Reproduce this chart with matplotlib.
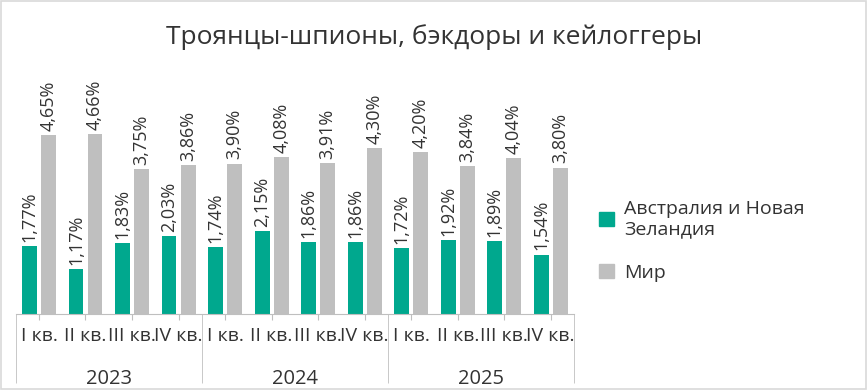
import numpy as np
import matplotlib
matplotlib.use("Agg")
import matplotlib.pyplot as plt
from matplotlib.patches import Rectangle, Patch

plt.rcParams['font.family'] = ['Open Sans', 'DejaVu Sans']

years = ["2023", "2024", "2025"]
quarters = ["I кв.", "II кв.", "III кв.", "IV кв."]
au_nz = [1.77, 1.17, 1.83, 2.03, 1.74, 2.15, 1.86, 1.86, 1.72, 1.92, 1.89, 1.54]
world = [4.65, 4.66, 3.75, 3.86, 3.90, 4.08, 3.91, 4.30, 4.20, 3.84, 4.04, 3.80]
series_names = ["Австралия и Новая\nЗеландия", "Мир"]

teal = "#00A88E"
grey = "#BFBFBF"
text_col = "#333333"

fig = plt.figure(figsize=(8.68, 3.90), dpi=100)
ax = fig.add_axes([0.0181, 0.1949, 0.6432, 0.6128])

x = np.arange(len(au_nz))
w = 0.32
off = 0.205
b1 = ax.bar(x - off, au_nz, w, color=teal)
b2 = ax.bar(x + off, world, w, color=grey)

def fmt(v):
    return f"{v:.2f}".replace(".", ",") + "%"

for bars, vals in [(b1, au_nz), (b2, world)]:
    for rect, v in zip(bars, vals):
        ax.annotate(fmt(v), (rect.get_x() + rect.get_width() / 2, v),
                    xytext=(0, 3), textcoords="offset points",
                    ha="center", va="bottom", rotation=90,
                    fontsize=13, color=text_col)

ax.set_xlim(-0.5, len(au_nz) - 0.5)
ax.set_ylim(0, 6.2)
ax.set_yticks([])
for s in ["top", "right", "left"]:
    ax.spines[s].set_visible(False)
ax.spines["bottom"].set_color("#BFBFBF")

ax.set_xticks(x)
ax.set_xticklabels(quarters * len(years), fontsize=14, color=text_col)
ax.tick_params(axis="x", which="major", length=4.5, color="#BFBFBF", pad=5)
ax.set_xticks(np.arange(-0.5, len(au_nz), 4), minor=True)
ax.tick_params(axis="x", which="minor", length=50, color="#BFBFBF")

for i, yr in enumerate(years):
    ax.text(i * 4 + 1.5, -0.27, yr, transform=ax.get_xaxis_transform(),
            ha="center", va="center", fontsize=14.5, color=text_col)

fig.text(0.5, 0.905, "Троянцы-шпионы, бэкдоры и кейлоггеры", ha="center", va="center",
         fontsize=19, color=text_col)

handles = [Patch(color=teal), Patch(color=grey)]
fig.legend(handles, series_names, loc="upper left", bbox_to_anchor=(0.679, 0.513),
           frameon=False, fontsize=14, borderpad=0, handlelength=0.75, handleheight=0.75,
           handletextpad=0.55, labelspacing=1.3, labelcolor=text_col)

fig.patches.append(Rectangle((0.001, 0.003), 0.997, 0.995, transform=fig.transFigure,
                             fill=False, edgecolor="#D9D9D9", linewidth=1.2))

fig.savefig("out.png", dpi=100)
